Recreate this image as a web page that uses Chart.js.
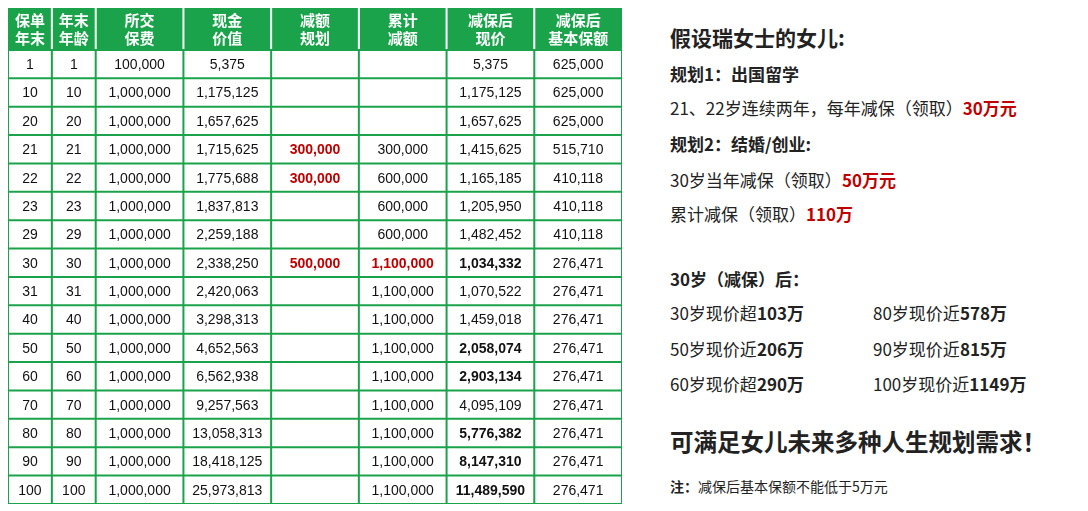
<!DOCTYPE html>
<html><head><meta charset="utf-8">
<script src="https://cdn.jsdelivr.net/npm/chart.js@4"></script>
<style>
body{margin:0;width:1088px;height:511px;background:#fff;font-family:"Noto Sans CJK SC","Noto Sans",sans-serif;position:relative;overflow:hidden}
#wrap{position:absolute;left:8px;top:8px;width:614px;height:496px}
.t{position:absolute;left:670px;color:#222;white-space:nowrap;font-size:17px}
.b{font-weight:bold}
.r{color:#c00000;font-weight:bold}
</style></head><body>
<div id="wrap"><canvas id="tbl"></canvas></div>
<div class="t b" style="top:22px;font-size:21px">假设瑞女士的女儿:</div>
<div class="t b" style="top:61px">规划1：出国留学</div>
<div class="t" style="top:95px">21、22岁连续两年，每年减保（领取）<span class="r">30万元</span></div>
<div class="t b" style="top:131px">规划2：结婚/创业:</div>
<div class="t" style="top:167px">30岁当年减保（领取）<span class="r">50万元</span></div>
<div class="t" style="top:201px">累计减保（领取）<span class="r">110万</span></div>
<div class="t b" style="top:266px">30岁（减保）后：</div>
<div class="t" style="top:300px">30岁现价超<b>103万</b></div>
<div class="t" style="top:336px">50岁现价近<b>206万</b></div>
<div class="t" style="top:371px">60岁现价超<b>290万</b></div>
<div class="t" style="top:300px;left:873px">80岁现价近<b>578万</b></div>
<div class="t" style="top:336px;left:873px">90岁现价近<b>815万</b></div>
<div class="t" style="top:371px;left:873px">100岁现价近<b>1149万</b></div>
<div class="t b" style="top:424px;font-size:23.5px">可满足女儿未来多种人生规划需求！</div>
<div class="t" style="top:476px;font-size:14px"><b>注：</b>减保后基本保额不能低于5万元</div>
<script>
// table data
var headers = [['保单','年末'],['年末','年龄'],['所交','保费'],['现金','价值'],['减额','规划'],['累计','减额'],['减保后','现价'],['减保后','基本保额']];
var years = ['1','10','20','21','22','23','29','30','31','40','50','60','70','80','90','100'];
var ages = ['1','10','20','21','22','23','29','30','31','40','50','60','70','80','90','100'];
var premium = ['100,000','1,000,000','1,000,000','1,000,000','1,000,000','1,000,000','1,000,000','1,000,000','1,000,000','1,000,000','1,000,000','1,000,000','1,000,000','1,000,000','1,000,000','1,000,000'];
var cashValue = ['5,375','1,175,125','1,657,625','1,715,625','1,775,688','1,837,813','2,259,188','2,338,250','2,420,063','3,298,313','4,652,563','6,562,938','9,257,563','13,058,313','18,418,125','25,973,813'];
var plan = ['','','','300,000','300,000','','','500,000','','','','','','','',''];
var cumulative = ['','','','300,000','600,000','600,000','600,000','1,100,000','1,100,000','1,100,000','1,100,000','1,100,000','1,100,000','1,100,000','1,100,000','1,100,000'];
var afterValue = ['5,375','1,175,125','1,657,625','1,415,625','1,165,185','1,205,950','1,482,452','1,034,332','1,070,522','1,459,018','2,058,074','2,903,134','4,095,109','5,776,382','8,147,310','11,489,590'];
var afterSum = ['625,000','625,000','625,000','515,710','410,118','410,118','410,118','276,471','276,471','276,471','276,471','276,471','276,471','276,471','276,471','276,471'];
var boldValueRows = ['30','50','60','80','90','100'];

var columns = [years, ages, premium, cashValue, plan, cumulative, afterValue, afterSum];
var colUnits = [1, 1, 2, 2, 2, 2, 2, 2];
var colEdges = [0];
colUnits.forEach(function(u){ colEdges.push(colEdges[colEdges.length-1] + u); });
var HEAD = 1.48;

var points = [];
columns.forEach(function(col, c){
  col.forEach(function(v, r){ points.push({x:(colEdges[c]+colEdges[c+1])/2, y:HEAD+r+0.5, c:c, r:r, v:v}); });
});

var green = '#1aa34a';
var tablePlugin = {
  id: 'tablePlugin',
  beforeDatasetsDraw: function(chart){
    var ctx = chart.ctx, xs = chart.scales.x, ys = chart.scales.y;
    var X = function(v){ return xs.getPixelForValue(v); }, Y = function(v){ return ys.getPixelForValue(v); };
    ctx.save();
    ctx.fillStyle = green;
    ctx.fillRect(X(0), Y(0), X(14)-X(0), Y(HEAD)-Y(0));
    // header text
    ctx.fillStyle = '#fff'; ctx.font = 'bold 15px "Noto Sans CJK SC"'; ctx.textAlign='center'; ctx.textBaseline='middle';
    headers.forEach(function(h, c){
      var cx = X((colEdges[c]+colEdges[c+1])/2);
      ctx.fillText(h[0], cx, Y(HEAD*0.3)); ctx.fillText(h[1], cx, Y(HEAD*0.72));
    });
    // borders
    ctx.lineWidth = 2;
    colEdges.forEach(function(e, i){
      ctx.strokeStyle = (i===0||i===colEdges.length-1) ? green : '#fff';
      ctx.beginPath(); ctx.moveTo(X(e), Y(0)); ctx.lineTo(X(e), Y(HEAD)); ctx.stroke();
      ctx.strokeStyle = green;
      ctx.beginPath(); ctx.moveTo(X(e), Y(HEAD)); ctx.lineTo(X(e), Y(HEAD+years.length)); ctx.stroke();
    });
    for (var r = 0; r <= years.length; r++) {
      ctx.beginPath(); ctx.moveTo(X(0), Y(HEAD+r)); ctx.lineTo(X(14), Y(HEAD+r)); ctx.stroke();
    }
    ctx.restore();
  },
  afterDatasetsDraw: function(chart){
    var ctx = chart.ctx, meta = chart.getDatasetMeta(0);
    ctx.save(); ctx.textAlign='center'; ctx.textBaseline='middle';
    meta.data.forEach(function(el, i){
      var p = points[i];
      var bold = false, red = false;
      if (p.c === 4 && p.v) { bold = red = true; }
      if (p.c === 5 && years[p.r] === '30') { bold = red = true; }
      if (p.c === 6 && boldValueRows.indexOf(years[p.r]) >= 0) bold = true;
      ctx.fillStyle = red ? '#c00000' : '#111';
      ctx.font = (bold ? 'bold ' : '') + '14px "Liberation Sans","Noto Sans",sans-serif';
      ctx.fillText(p.v, el.x, el.y + 1);
    });
    ctx.restore();
  }
};

new Chart(document.getElementById('tbl'), {
  type: 'scatter',
  data: { datasets: [{ data: points, pointRadius: 0, pointHoverRadius: 0 }] },
  options: {
    responsive: true, maintainAspectRatio: false, animation: false,
    layout: { padding: 0 },
    plugins: { legend: { display: false }, tooltip: { enabled: false } },
    scales: {
      x: { type: 'linear', min: 0, max: 14, display: false },
      y: { type: 'linear', min: 0, max: HEAD + years.length, reverse: true, display: false }
    }
  },
  plugins: [tablePlugin]
});
</script>
</body></html>
